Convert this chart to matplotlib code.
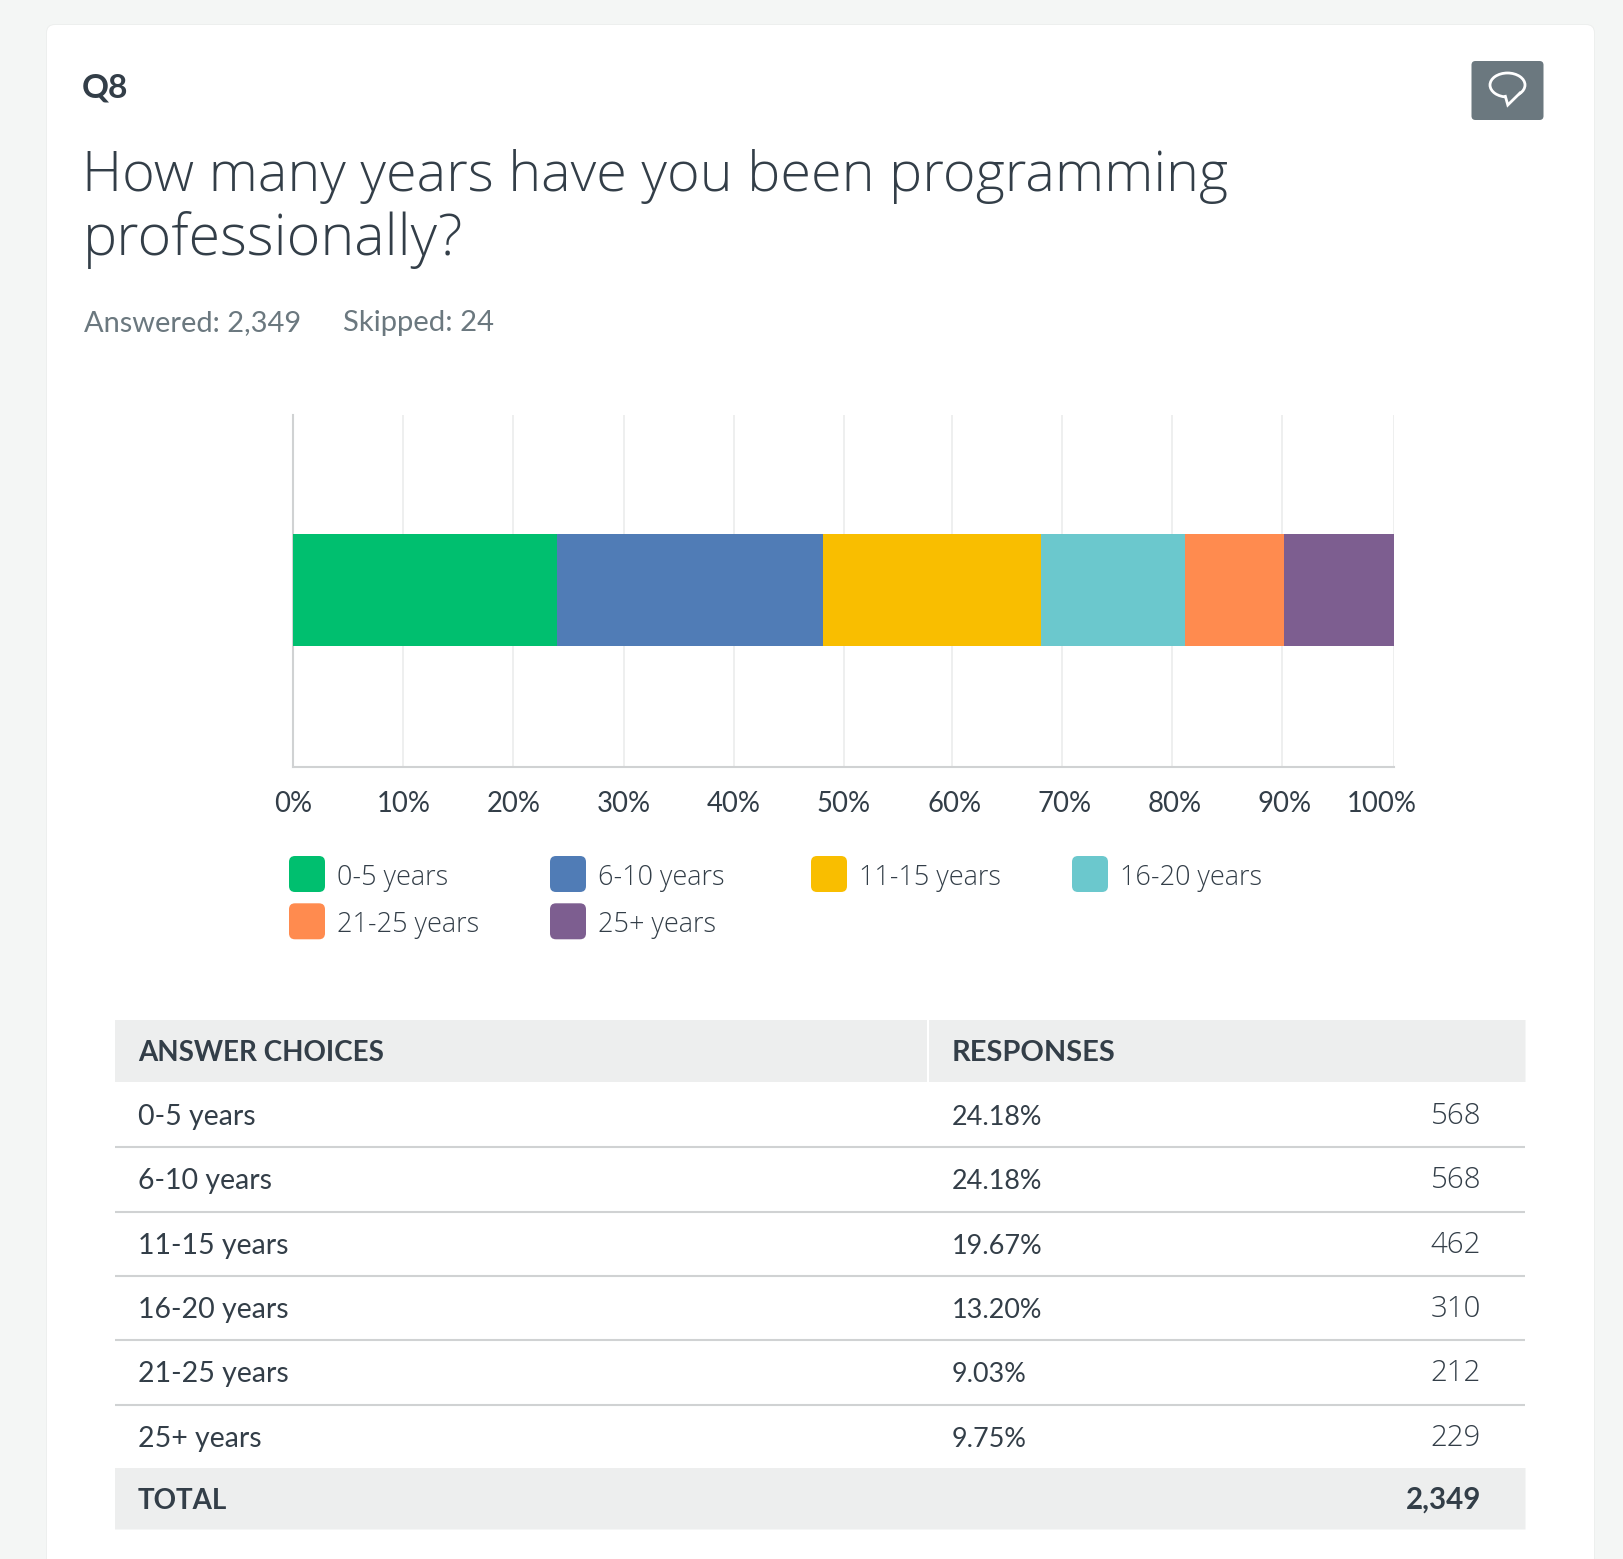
import matplotlib
matplotlib.use('Agg')
from matplotlib import pyplot as plt
from matplotlib.patches import FancyBboxPatch, Rectangle, Ellipse, Polygon
from matplotlib.transforms import ScaledTranslation

W, H = 1624, 1559
DARK = '#333e48'
GREY = '#6b787f'
LIGHT = 'Open Sans'

labels = ['0-5 years', '6-10 years', '11-15 years', '16-20 years', '21-25 years', '25+ years']
colors = ['#00bf6f', '#507cb6', '#f9be00', '#6bc8cd', '#ff8b4f', '#7d5e90']
pct = ['24.18%', '24.18%', '19.67%', '13.20%', '9.03%', '9.75%']
counts = ['568', '568', '462', '310', '212', '229']
# segment widths as drawn in the bar
widths = [23.97, 24.09, 19.83, 13.06, 9.02, 10.03]
# gridlines in the picture are not quite on the tick labels
grid_at = [9.96, 19.96, 29.98, 40.04, 49.96, 59.8, 69.8, 79.8, 89.8, 100]

plt.rcParams['font.family'] = ['Lato', 'DejaVu Sans']

fig = plt.figure(figsize=(W / 100, H / 100), dpi=100, facecolor='#f4f6f5')

# page layer, in pixels
page = fig.add_axes([0, 0, 1, 1])
page.set_xlim(0, W)
page.set_ylim(H, 0)
page.axis('off')


def px(size):
    return size * 0.72


def box(x0, y0, x1, y1, color, r=0, **kw):
    page.add_patch(FancyBboxPatch((x0 + r, y0 + r), x1 - x0 - 2 * r, y1 - y0 - 2 * r,
                                  boxstyle='round,pad=%g,rounding_size=%g' % (r, r),
                                  fc=color, ec='none', **kw))


# card
box(46, 24, 1595, 1600, '#edefee', r=9)
box(47, 25, 1594, 1600, 'white', r=8)

# header
page.text(81.5, 97, 'Q8', fontsize=px(33.5), fontweight='bold', color=DARK)
page.text(82.5, 190.7, 'How many years have you been programming', fontsize=px(55.8), family=LIGHT, fontweight='light', color=DARK)
page.text(82.5, 255, 'professionally?', fontsize=px(57.5), family=LIGHT, fontweight='light', color=DARK)
page.text(84, 330.7, 'Answered: 2,349', fontsize=px(29), color=GREY)
page.text(343, 330.7, 'Skipped: 24', fontsize=px(29.3), color=GREY)

# comment button
box(1471.5, 61, 1543.5, 120, GREY, r=4)
page.add_patch(Ellipse((1507.5, 85), 35, 24, fc='none', ec='white', lw=2))
page.add_patch(Polygon([[1505, 95], [1507.8, 105], [1521, 92]], closed=False, fc=GREY, ec='white', lw=2))

# chart
ax = fig.add_axes([293.5 / W, 1 - 766.5 / H, (1394.5 - 293.5) / W, (766.5 - 415) / H])
ax.set_xlim(0, 100)
ax.set_ylim(-0.5, 0.5)
ax.set_facecolor('none')
left = 0
for w, c in zip(widths, colors):
    ax.barh(0.003, w, left=left, height=0.319, color=c, zorder=3)
    left += w
ax.vlines(grid_at, -0.5, 0.5, color='#eeefef', lw=1.44, zorder=1)
ax.set_yticks([])
ax.set_xticks(range(0, 101, 10))
ax.set_xticklabels(['%d%%' % v for v in range(0, 101, 10)], fontsize=px(27.5), color=DARK)
ax.tick_params(axis='x', length=0, pad=17.7)
for s in ['top', 'right']:
    ax.spines[s].set_visible(False)
for s in ['left', 'bottom']:
    ax.spines[s].set_color('#d0d2d3')
    ax.spines[s].set_linewidth(1.5)
# last label sits inside the chart edge
last = ax.get_xticklabels()[-1]
last.set_transform(last.get_transform() + ScaledTranslation(-13 / 100, 0, fig.dpi_scale_trans))

# legend
for i, (name, c) in enumerate(zip(labels, colors)):
    col, row = i % 4, i // 4
    x = 289 + col * 261
    y = 856 + row * 47.3
    box(x, y, x + 36, y + 36, c, r=6)
    page.text(x + 48, y + 29, name, fontsize=px(27), family=LIGHT, fontweight='light', color=DARK)

# table
box(115, 1020, 1525.5, 1082, '#edeeee')
page.add_patch(Rectangle((927, 1020), 2, 62, fc='white', ec='none'))
page.text(138, 1061, 'ANSWER CHOICES', fontsize=px(27.8), fontweight='bold', color=DARK)
page.text(951.5, 1061, 'RESPONSES', fontsize=px(29), fontweight='bold', color=DARK)
rows_y = [1125, 1189, 1254, 1318, 1382, 1447]
for i, y in enumerate(rows_y):
    page.text(138, y, labels[i], fontsize=px(28.5), color=DARK)
    page.text(951.5, y, pct[i], fontsize=px(27), color=DARK)
    page.text(1481, y - 1, counts[i], fontsize=px(29.5), family=LIGHT, fontweight='light', color=DARK, ha='right')
for y in [1147, 1211.5, 1275.5, 1339.5, 1404.5]:
    page.plot([115, 1525.5], [y, y], color='#d0d2d3', lw=1.5, solid_capstyle='butt')
box(115, 1468, 1525.5, 1529.5, '#edeeee')
page.text(138, 1509, 'TOTAL', fontsize=px(27.8), fontweight='bold', color=DARK)
page.text(1481, 1509, '2,349', fontsize=px(29.5), fontweight='bold', color=DARK, ha='right')

fig.savefig('out.png', dpi=100, facecolor=fig.get_facecolor())
